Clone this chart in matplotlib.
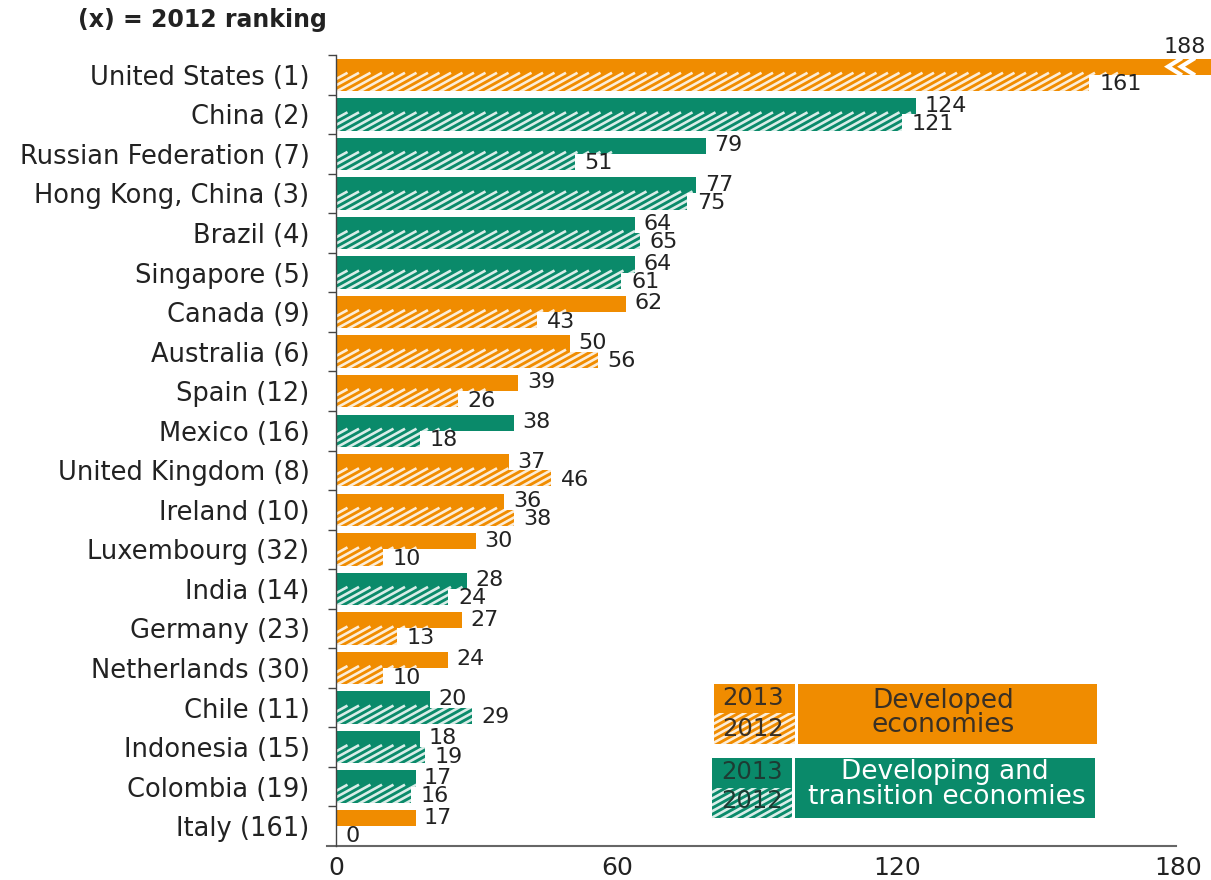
import matplotlib
matplotlib.use("Agg")
import matplotlib.pyplot as plt
from matplotlib.patches import Rectangle
from matplotlib.collections import LineCollection
from matplotlib.transforms import IdentityTransform
import numpy as np

# ---------------- data ----------------
countries = ["United States (1)", "China (2)", "Russian Federation (7)",
             "Hong Kong, China (3)", "Brazil (4)", "Singapore (5)", "Canada (9)",
             "Australia (6)", "Spain (12)", "Mexico (16)", "United Kingdom (8)",
             "Ireland (10)", "Luxembourg (32)", "India (14)", "Germany (23)",
             "Netherlands (30)", "Chile (11)", "Indonesia (15)", "Colombia (19)",
             "Italy (161)"]
v2013 = [188, 124, 79, 77, 64, 64, 62, 50, 39, 38, 37, 36, 30, 28, 27, 24, 20, 18, 17, 17]
v2012 = [161, 121, 51, 75, 65, 61, 43, 56, 26, 18, 46, 38, 10, 24, 13, 10, 29, 19, 16, 0]
group = ["dev", "dvg", "dvg", "dvg", "dvg", "dvg", "dev", "dev", "dev", "dvg",
         "dev", "dev", "dev", "dvg", "dev", "dev", "dvg", "dvg", "dvg", "dev"]
xticks = [0, 60, 120, 180]
title = "(x) = 2012 ranking"

# ---------------- style ----------------
ORANGE = "#F08C00"
GREEN = "#0A8A6A"
TXT = "#222222"
W, H = 1211, 880
XMAX = 187

plt.rcParams["font.family"] = ["DejaVu Sans"]
fig = plt.figure(figsize=(W / 100, H / 100), dpi=100)
ax = fig.add_axes([336 / W, (H - 846) / H, (W - 336) / W, (846 - 55) / H])

n = len(countries)
y = np.arange(n)
bh, off = 0.41, 0.205
cols = [ORANGE if g == "dev" else GREEN for g in group]

b13 = ax.barh(y - off, v2013, height=bh, color=cols, linewidth=0)
b12 = ax.barh(y + off, v2012, height=bh, color=cols, linewidth=0)
ax.set_xlim(0, XMAX)
ax.set_ylim(n - 0.5, -0.5)


def stripes(patch, add, spacing=11.5, slope=0.55, lw=1.9):
    bb = patch.get_window_extent()
    if bb.width <= 0:
        return
    y0, y1 = bb.y0 - 2, bb.y1 + 2
    h = y1 - y0
    run = h / slope
    segs = []
    x = bb.x0 - run
    while x < bb.x1 + 1:
        segs.append([(x, y0), (x + run, y1)])
        x += spacing
    lc = LineCollection(segs, colors="white", linewidths=lw, alpha=0.85,
                        transform=IdentityTransform())
    lc.set_clip_path(patch)
    add(lc)


for p in b12.patches:
    stripes(p, lambda c: ax.add_collection(c, autolim=False))

# break marks on the truncated bar
for i, v in enumerate(v2013):
    if v > XMAX:
        yc = i - off
        for tx in (177.8, 180.6):
            ax.plot([tx + 2.6, tx, tx + 2.6], [yc - 0.19, yc, yc + 0.19],
                    color="white", lw=3, solid_joinstyle="miter")

# value labels
for i in range(n):
    v = v2013[i]
    if v > XMAX:
        ax.annotate(str(v), xy=(XMAX, -0.5), xytext=(-4, 6), textcoords="offset points",
                    ha="right", va="center", fontsize=16, color=TXT, annotation_clip=False)
    else:
        ax.annotate(str(v), xy=(v, i - 0.22), xytext=(6, 0), textcoords="offset points",
                    ha="left", va="center", fontsize=16, color=TXT)
    ax.annotate(str(v2012[i]), xy=(v2012[i], i + 0.24), xytext=(7, 0),
                textcoords="offset points", ha="left", va="center", fontsize=16, color=TXT)

# axes styling
ax.set_yticks(y)
ax.set_yticklabels(countries, fontsize=18.5, color=TXT)
ax.tick_params(axis="y", which="major", length=0, pad=19)
ax.set_yticks(np.arange(-0.5, n - 1, 1), minor=True)
ax.tick_params(axis="y", which="minor", length=6, width=1, color="#444444", direction="out")
ax.set_xticks(xticks)
ax.set_xticklabels([str(t) for t in xticks], fontsize=18, color=TXT)
ax.tick_params(axis="x", length=0, pad=7)
for s in ("top", "right", "bottom"):
    ax.spines[s].set_visible(False)
ax.spines["left"].set_color("#444444")
ax.spines["left"].set_linewidth(1)
ax.plot([-2, 179.5], [n - 0.5, n - 0.5], color="#666666", lw=1.5, clip_on=False)

# title
fig.text(78 / W, 1 - 20 / H, title, ha="left", va="center", fontsize=17,
         fontweight="bold", color=TXT)


# legend
def rect_px(x0, y0, x1, y1, color):
    r = Rectangle((x0 / W, 1 - y1 / H), (x1 - x0) / W, (y1 - y0) / H,
                  transform=fig.transFigure, facecolor=color, linewidth=0)
    fig.add_artist(r)
    return r


rect_px(714, 684, 795, 713, ORANGE)
r = rect_px(714, 713, 795, 744, ORANGE)
stripes(r, fig.add_artist)
rect_px(798, 684, 1097, 744, ORANGE)
rect_px(712, 758, 792, 788, GREEN)
r = rect_px(712, 788, 792, 818, GREEN)
stripes(r, fig.add_artist)
rect_px(795, 758, 1095, 818, GREEN)

DARK_O = "#3a3024"
DARK_G = "#1d3b33"
for (x, yy, s, c, fs) in [(753, 698, "2013", DARK_O, 17.5), (753, 729, "2012", DARK_O, 17.5),
                          (943, 701, "Developed", DARK_O, 19), (943, 725, "economies", DARK_O, 19),
                          (752, 772, "2013", DARK_G, 17.5), (752, 801, "2012", DARK_G, 17.5),
                          (945, 772, "Developing and", "white", 19),
                          (947, 797, "transition economies", "white", 19)]:
    fig.text(x / W, 1 - yy / H, s, ha="center", va="center", fontsize=fs, color=c)

fig.savefig("out.png", dpi=100)
